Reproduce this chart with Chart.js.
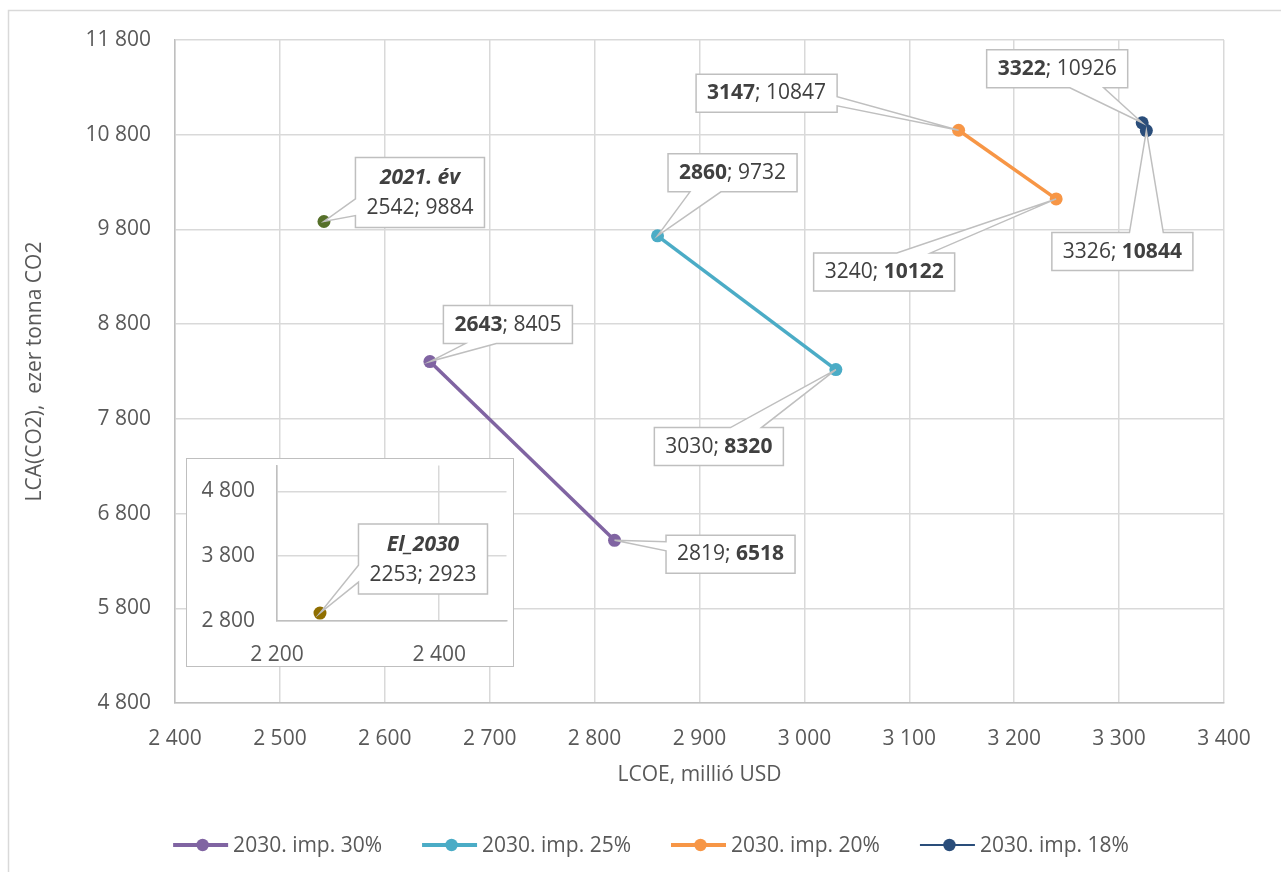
<!DOCTYPE html>
<html>
<head>
<meta charset="utf-8">
<script src="https://cdn.jsdelivr.net/npm/chart.js@4.4.1/dist/chart.umd.min.js"></script>
<style>
  html, body { margin: 0; padding: 0; background: #ffffff; }
  #wrap { position: relative; width: 1281px; height: 872px; overflow: hidden; }
  #main { position: absolute; left: 0; top: 0; }
  #insetBox { position: absolute; left: 186px; top: 458px; width: 326px; height: 207px;
              border: 1.5px solid #BFBFBF; background: #ffffff; overflow: hidden; }
  #inset { position: absolute; left: 0; top: 0; }
</style>
</head>
<body>
<div id="wrap">
  <canvas id="main" width="1281" height="872"></canvas>
  <div id="insetBox"><canvas id="inset" width="326" height="207"></canvas></div>
</div>
<script>
// ---------- DATA ----------
const seriesNames = ['2030. imp. 30%', '2030. imp. 25%', '2030. imp. 20%', '2030. imp. 18%'];
const lcoe30 = [2643, 2819];   const lca30 = [8405, 6518];
const lcoe25 = [2860, 3030];   const lca25 = [9732, 8320];
const lcoe20 = [3147, 3240];   const lca20 = [10847, 10122];
const lcoe18 = [3322, 3326];   const lca18 = [10926, 10844];
const lcoe2021 = [2542];       const lca2021 = [9884];
const label2021 = '2021. év';
const lcoeEl = [2253];         const lcaEl = [2923];
const labelEl = 'El_2030';
const xAxisTitle = 'LCOE, millió USD';
const yAxisTitle = 'LCA(CO2),  ezer tonna CO2';
const insetYTicks = [2800, 3800, 4800];
const insetXTicks = [2200, 2400];

// ---------- STYLE ----------
const FONT = "'Open Sans', 'Noto Sans', sans-serif";
const FS = 21;
const TXT = '#595959';
const LBL = '#404040';
const GRID = '#D9D9D9';
const AXIS = '#BFBFBF';
const colors = ['#8064A2', '#4BACC6', '#F79646', '#2A4D7A'];
const lineWidths = [3.5, 3.5, 3.5, 2];
const col2021 = '#56702A';
const colEl = '#8F6E00';

// callout layout: offset of box centre from point (px), which value is bold
const callouts30 = [{dx: 78, dy: -37, bold: 'x'}, {dx: 116, dy: 14, bold: 'y'}];
const callouts25 = [{dx: 75, dy: -63, bold: 'x'}, {dx: -117, dy: 77, bold: 'y'}];
const callouts20 = [{dx: -192, dy: -37, bold: 'x'}, {dx: -172, dy: 73, bold: 'y'}];
const callouts18 = [{dx: -85, dy: -54, bold: 'x'}, {dx: -24, dy: 121, bold: 'y'}];
const callouts2021 = [{dx: 96, dy: -29, title: label2021}];
const calloutsEl = [{dx: 103, dy: -54, title: labelEl}];

const fmt = v => {
  const s = Math.round(v).toString();
  return s.replace(/\B(?=(\d{3})+(?!\d))/g, ' ');
};
const pts = (xs, ys) => xs.map((x, i) => ({x, y: ys[i]}));

// ---------- CALLOUT DRAWING ----------
function drawCallout(ctx, px, py, c, xv, yv, fs) {
  const normal = `${fs}px ${FONT}`;
  const bold = `bold ${fs}px ${FONT}`;
  const boldIt = `italic bold ${fs}px ${FONT}`;
  const segs = [
    {t: String(xv), f: c.bold === 'x' ? bold : normal},
    {t: '; ', f: normal},
    {t: String(yv), f: c.bold === 'y' ? bold : normal}
  ];
  ctx.save();
  let w = 0;
  segs.forEach(s => { ctx.font = s.f; s.w = ctx.measureText(s.t).width; w += s.w; });
  let tw = 0;
  if (c.title) { ctx.font = boldIt; tw = ctx.measureText(c.title).width; }
  const padX = 11;
  const bw = Math.max(w, tw) + 2 * padX;
  const bh = c.title ? 70 : 38;
  const cx = px + c.dx, cy = py + c.dy;
  const L = cx - bw / 2, R = cx + bw / 2, T = cy - bh / 2, B = cy + bh / 2;

  const rx = (px - cx) / (bw / 2), ry = (py - cy) / (bh / 2);
  let edge;
  if (Math.abs(rx) > Math.abs(ry)) edge = rx < 0 ? 'left' : 'right';
  else edge = ry < 0 ? 'top' : 'bottom';
  const clamp = (v, a, b) => Math.max(a, Math.min(b, v));
  let b1, b2;
  if (edge === 'top' || edge === 'bottom') {
    const len = bw, m = 0.29 * len, hw = 0.12 * len;
    const c0 = clamp(px, L + m, R - m);
    const yE = edge === 'top' ? T : B;
    b1 = [c0 - hw, yE]; b2 = [c0 + hw, yE];
  } else {
    const len = bh, m = 0.29 * len, hw = 0.12 * len;
    const c0 = clamp(py, T + m, B - m);
    const xE = edge === 'left' ? L : R;
    b1 = [xE, c0 - hw]; b2 = [xE, c0 + hw];
  }
  const ap = [px, py];
  const path = [];
  path.push([L, T]);
  if (edge === 'top') { path.push(b1, ap, b2); }
  path.push([R, T]);
  if (edge === 'right') { path.push(b1, ap, b2); }
  path.push([R, B]);
  if (edge === 'bottom') { path.push(b2, ap, b1); }
  path.push([L, B]);
  if (edge === 'left') { path.push(b2, ap, b1); }
  ctx.beginPath();
  path.forEach((p, i) => i ? ctx.lineTo(p[0], p[1]) : ctx.moveTo(p[0], p[1]));
  ctx.closePath();
  ctx.fillStyle = '#ffffff';
  ctx.fill();
  ctx.lineWidth = 1.5;
  ctx.strokeStyle = AXIS;
  ctx.lineJoin = 'miter';
  ctx.stroke();

  ctx.fillStyle = LBL;
  ctx.textBaseline = 'middle';
  ctx.textAlign = 'left';
  let ly = cy;
  if (c.title) {
    ctx.font = boldIt;
    ctx.fillText(c.title, cx - tw / 2, T + 21);
    ly = T + 51;
  }
  let x = cx - w / 2;
  segs.forEach(s => { ctx.font = s.f; ctx.fillText(s.t, x, ly); x += s.w; });
  ctx.restore();
}

const calloutPlugin = {
  id: 'callouts',
  afterDatasetsDraw(chart) {
    const ctx = chart.ctx;
    chart.data.datasets.forEach((ds, i) => {
      if (!ds.callouts) return;
      const meta = chart.getDatasetMeta(i);
      meta.data.forEach((el, j) => {
        const c = ds.callouts[j];
        if (!c) return;
        drawCallout(ctx, el.x, el.y, c, ds.data[j].x, ds.data[j].y, FS);
      });
    });
  }
};

const framePlugin = {
  id: 'frame',
  beforeDraw(chart) {
    const ctx = chart.ctx;
    ctx.save();
    ctx.fillStyle = '#ffffff';
    ctx.fillRect(0, 0, chart.width, chart.height);
    ctx.strokeStyle = GRID;
    ctx.lineWidth = 1.5;
    ctx.strokeRect(8.5, 10.5, 1400, 1000);
    ctx.restore();
  }
};

const legendPlugin = {
  id: 'customLegend',
  afterDraw(chart) {
    const ctx = chart.ctx;
    ctx.save();
    ctx.font = `${FS}px ${FONT}`;
    const items = chart.data.datasets.filter(d => d.inLegend);
    const lineLen = 55, gapText = 5, gapItem = 40;
    const widths = items.map(d => lineLen + gapText + ctx.measureText(d.label).width);
    const total = widths.reduce((a, b) => a + b, 0) + gapItem * (items.length - 1);
    let x = 651 - total / 2;
    const y = 845;
    items.forEach((d, i) => {
      ctx.strokeStyle = d.borderColor;
      ctx.lineWidth = d.borderWidth >= 3 ? 4 : 2.2;
      ctx.beginPath(); ctx.moveTo(x, y); ctx.lineTo(x + lineLen, y); ctx.stroke();
      ctx.fillStyle = d.pointBackgroundColor;
      ctx.beginPath(); ctx.arc(x + lineLen / 2 + 2, y, 6.2, 0, Math.PI * 2); ctx.fill();
      ctx.fillStyle = TXT;
      ctx.textBaseline = 'middle';
      ctx.textAlign = 'left';
      ctx.fillText(d.label, x + lineLen + gapText, y + 1);
      x += widths[i] + gapItem;
    });
    ctx.restore();
  }
};

const mkSeries = (i, xs, ys, co) => ({
  label: seriesNames[i],
  data: pts(xs, ys),
  showLine: true,
  borderColor: colors[i],
  backgroundColor: colors[i],
  pointBackgroundColor: colors[i],
  pointBorderColor: colors[i],
  borderWidth: lineWidths[i],
  pointRadius: 6.5,
  pointBorderWidth: 0,
  inLegend: true,
  callouts: co
});

const tickFont = {family: FONT, size: FS};
const noPad = s => { s.paddingTop = 0; s.paddingBottom = 0; s.paddingLeft = 0; s.paddingRight = 0; };

new Chart(document.getElementById('main'), {
  type: 'scatter',
  data: {
    datasets: [
      mkSeries(0, lcoe30, lca30, callouts30),
      mkSeries(1, lcoe25, lca25, callouts25),
      mkSeries(2, lcoe20, lca20, callouts20),
      mkSeries(3, lcoe18, lca18, callouts18),
      {
        label: label2021, data: pts(lcoe2021, lca2021), showLine: false,
        pointBackgroundColor: col2021, pointBorderColor: col2021, backgroundColor: col2021,
        pointRadius: 6.5, pointBorderWidth: 0, inLegend: false, callouts: callouts2021
      }
    ]
  },
  options: {
    responsive: false,
    animation: false,
    devicePixelRatio: 1,
    events: [],
    layout: {padding: {top: 40, right: 57, left: 0, bottom: 0}},
    plugins: {legend: {display: false}, tooltip: {enabled: false}},
    scales: {
      x: {
        type: 'linear', min: 2400, max: 3400,
        ticks: {stepSize: 100, padding: 23, color: TXT, font: tickFont, maxRotation: 0, autoSkip: false, callback: v => fmt(v)},
        grid: {color: GRID, lineWidth: 1.5, drawTicks: false},
        border: {color: AXIS, width: 1.5},
        title: {display: true, text: xAxisTitle, color: TXT, font: tickFont, padding: {top: 0, bottom: 84}},
        afterFit: s => { s.height = 169; noPad(s); }
      },
      y: {
        type: 'linear', min: 4800, max: 11800,
        ticks: {stepSize: 1000, padding: 24, color: TXT, font: tickFont, autoSkip: false, callback: v => fmt(v)},
        grid: {color: GRID, lineWidth: 1.5, drawTicks: false},
        border: {color: AXIS, width: 1.5},
        title: {display: true, text: yAxisTitle, color: TXT, font: tickFont, padding: {top: 22, bottom: 0}},
        afterFit: s => { s.width = 175; noPad(s); }
      }
    }
  },
  plugins: [framePlugin, calloutPlugin, legendPlugin]
});

// ---------- INSET ----------
new Chart(document.getElementById('inset'), {
  type: 'scatter',
  data: {
    datasets: [{
      label: labelEl, data: pts(lcoeEl, lcaEl), showLine: false,
      pointBackgroundColor: colEl, pointBorderColor: colEl, backgroundColor: colEl,
      pointRadius: 6.5, pointBorderWidth: 0, callouts: calloutsEl
    }]
  },
  options: {
    responsive: false,
    animation: false,
    devicePixelRatio: 1,
    events: [],
    layout: {padding: {top: 0, right: 0, left: 0, bottom: 0}},
    plugins: {legend: {display: false}, tooltip: {enabled: false}},
    scales: {
      x: {
        type: 'linear', min: 2200, max: 2483,
        afterBuildTicks: s => { s.ticks = insetXTicks.map(v => ({value: v})); },
        ticks: {padding: 21, color: TXT, font: tickFont, maxRotation: 0, autoSkip: false, callback: v => fmt(v)},
        grid: {color: GRID, lineWidth: 1.5, drawTicks: false},
        border: {color: AXIS, width: 1.5},
        afterFit: s => { s.height = 45; noPad(s); }
      },
      y: {
        type: 'linear', min: 2800, max: 5200,
        afterBuildTicks: s => { s.ticks = insetYTicks.map(v => ({value: v})); },
        ticks: {padding: 22, color: TXT, font: tickFont, autoSkip: false, callback: v => fmt(v)},
        grid: {color: GRID, lineWidth: 1.5, drawTicks: false},
        border: {color: AXIS, width: 1.5},
        afterFit: s => { s.width = 90; noPad(s); }
      }
    }
  },
  plugins: [calloutPlugin]
});
</script>
</body>
</html>
